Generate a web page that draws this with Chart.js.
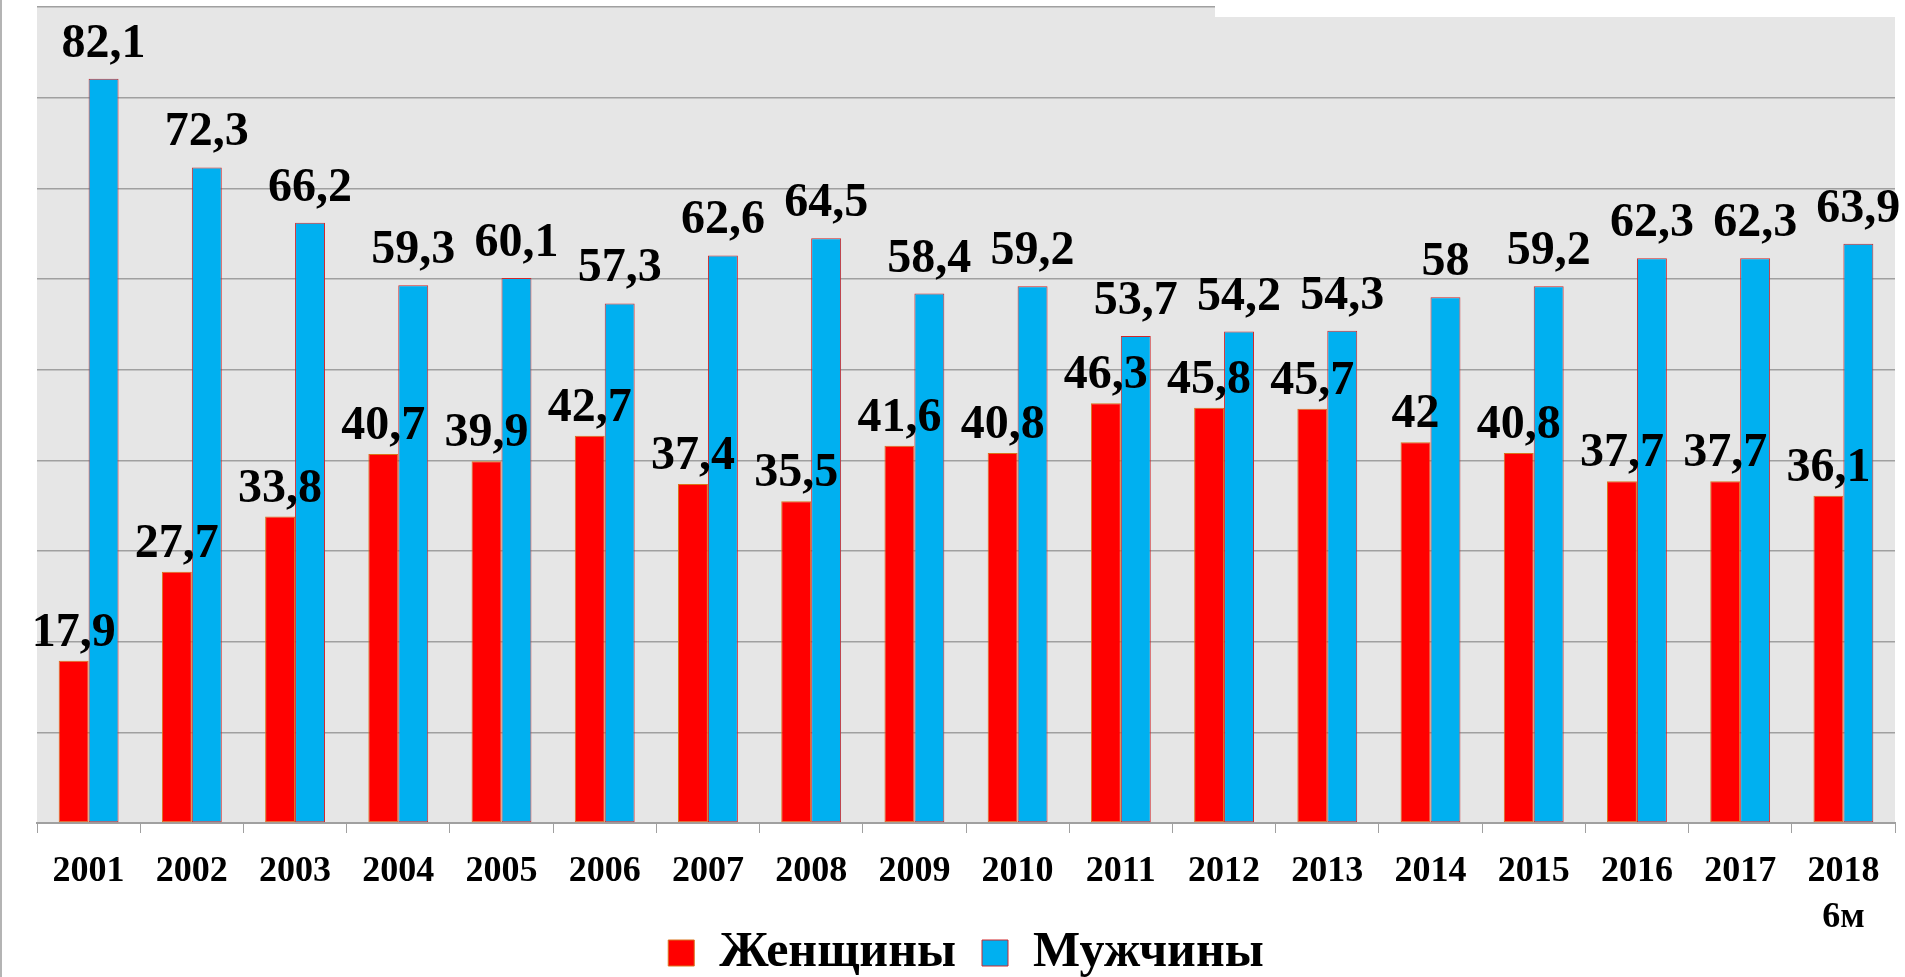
<!DOCTYPE html>
<html>
<head>
<meta charset="utf-8">
<script src="https://cdn.jsdelivr.net/npm/chart.js@4/dist/chart.umd.min.js"></script>
<style>
  html, body { margin: 0; padding: 0; background: #fff; }
  canvas { display: block; }
</style>
</head>
<body>
<canvas id="bar-chart" width="1905" height="977"></canvas>
<script>
const years = ['2001', '2002', '2003', '2004', '2005', '2006', '2007', '2008', '2009',
  '2010', '2011', '2012', '2013', '2014', '2015', '2016', '2017', ['2018', '6м']];
const women = [17.9, 27.7, 33.8, 40.7, 39.9, 42.7, 37.4, 35.5, 41.6,
  40.8, 46.3, 45.8, 45.7, 42, 40.8, 37.7, 37.7, 36.1];
const men = [82.1, 72.3, 66.2, 59.3, 60.1, 57.3, 62.6, 64.5, 58.4,
  59.2, 53.7, 54.2, 54.3, 58, 59.2, 62.3, 62.3, 63.9];

const serif = '"Liberation Serif", "Times New Roman", serif';
const gridGray = '#a0a0a0';

// grey plot area, left border line, white patch at the top right
const background = {
  id: 'background',
  beforeDraw(chart) {
    const { ctx, chartArea: a } = chart;
    ctx.save();
    ctx.fillStyle = '#e6e6e6';
    ctx.fillRect(a.left, a.top, a.right - a.left, a.bottom - a.top);
    ctx.restore();
  },
  afterDraw(chart) {
    const ctx = chart.ctx;
    ctx.save();
    ctx.fillStyle = '#fff';
    ctx.fillRect(1215, 0, 690, 17);
    ctx.strokeStyle = '#b4b4b4';
    ctx.lineWidth = 2;
    ctx.beginPath();
    ctx.moveTo(1, 0);
    ctx.lineTo(1, chart.height);
    ctx.stroke();
    ctx.restore();
  }
};

// value labels above each bar, comma as decimal separator
const labelLift = [15, 22];
const valueLabels = {
  id: 'valueLabels',
  afterDatasetsDraw(chart) {
    const ctx = chart.ctx;
    ctx.save();
    ctx.font = 'bold 48px ' + serif;
    ctx.fillStyle = '#000';
    ctx.textAlign = 'center';
    ctx.textBaseline = 'alphabetic';
    chart.data.datasets.forEach((ds, i) => {
      chart.getDatasetMeta(i).data.forEach((bar, j) => {
        const txt = String(ds.data[j]).replace('.', ',');
        ctx.fillText(txt, bar.x, bar.y - labelLift[i]);
      });
    });
    ctx.restore();
  }
};

new Chart(document.getElementById('bar-chart'), {
  type: 'bar',
  data: {
    labels: years,
    datasets: [{
      label: 'Женщины',
      data: women,
      backgroundColor: '#ff0000',
      borderColor: '#d9741c',
      borderWidth: 1,
      borderSkipped: false,
      categoryPercentage: 0.58,
      barPercentage: 1.0
    }, {
      label: 'Мужчины',
      data: men,
      backgroundColor: '#00b0f0',
      borderColor: '#d0282c',
      borderWidth: 1,
      borderSkipped: false,
      categoryPercentage: 0.58,
      barPercentage: 1.0
    }]
  },
  options: {
    responsive: false,
    animation: false,
    devicePixelRatio: 1,
    layout: { padding: { left: 37, right: 10, top: 7, bottom: -11 } },
    plugins: {
      legend: {
        position: 'bottom',
        labels: {
          color: '#000',
          font: { family: serif, size: 50, weight: 'bold' },
          boxWidth: 26,
          boxHeight: 26,
          padding: 26
        }
      },
      tooltip: { enabled: false }
    },
    scales: {
      x: {
        afterFit(scale) {
          scale.height = 79;
          // let the second line of the last label run past the axis box
          scale._computeLabelArea = () => undefined;
        },
        grid: {
          offset: true,
          drawOnChartArea: false,
          drawTicks: true,
          tickLength: 10,
          color: gridGray
        },
        border: { color: gridGray, width: 2 },
        ticks: {
          color: '#000',
          font: { family: serif, size: 36, weight: 'bold', lineHeight: 1.3 },
          padding: 15,
          maxRotation: 0,
          autoSkip: false
        }
      },
      y: {
        min: 0,
        max: 90,
        ticks: { display: false, stepSize: 10 },
        grid: { color: gridGray, drawTicks: false, lineWidth: 1.5 },
        border: { display: false }
      }
    }
  },
  plugins: [background, valueLabels]
});
</script>
</body>
</html>
